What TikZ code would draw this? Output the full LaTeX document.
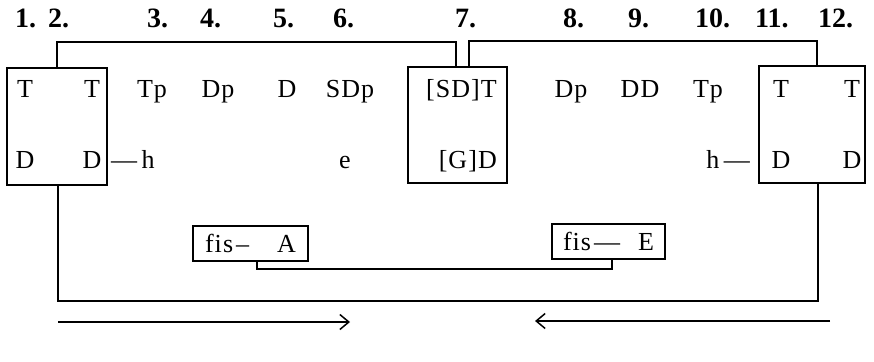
\documentclass[tikz,border=0pt]{standalone}
\usepackage{fontspec}
\setmainfont{Liberation Serif}
\usetikzlibrary{arrows.meta}
\begin{document}
\begin{tikzpicture}[x=1pt,y=-1pt,
  lbl/.style={inner sep=0pt,anchor=base,font=\fontsize{26}{30}\selectfont\addfontfeature{LetterSpace=4}},
  num/.style={inner sep=0pt,anchor=base west,font=\fontsize{28}{30}\selectfont\bfseries},
  frame/.style={draw,line width=1.6pt,inner sep=0pt},
  link/.style={line width=1.6pt},
  dir/.style={line width=1.6pt,-{Straight Barb[length=9pt,width=15pt,line width=1.5pt]}}]
\useasboundingbox (0,0) rectangle (874,361);

% column numbers
\node[num] (n1) at (15,28) {1.};
\node[num] (n2) at (48,28) {2.};
\node[num] (n3) at (147,28) {3.};
\node[num] (n4) at (200,28) {4.};
\node[num] (n5) at (273,28) {5.};
\node[num] (n6) at (333,28) {6.};
\node[num] (n7) at (455,28) {7.};
\node[num] (n8) at (563,28) {8.};
\node[num] (n9) at (628,28) {9.};
\node[num] (n10) at (695,28) {10.};
\node[num] (n11) at (755,28) {11.};
\node[num] (n12) at (818,28) {12.};

% framed groups
\node[frame,minimum width=100pt,minimum height=117pt] (b1) at (57,126.5) {};
\node[frame,minimum width=99pt,minimum height=116pt] (b7) at (457.5,125) {};
\node[frame,minimum width=106pt,minimum height=117pt] (b12) at (812,124.5) {};

% upper row
\node[lbl] (t1) at (25,97) {T};
\node[lbl] (t2) at (92,97) {T};
\node[lbl] (t3) at (152,97) {Tp};
\node[lbl] (t4) at (218,97) {Dp};
\node[lbl] (t5) at (287,97) {D};
\node[lbl] (t6) at (350,97) {SDp};
\node[lbl,anchor=base east] (t7) at (497,97) {[SD]T};
\node[lbl] (t8) at (571,97) {Dp};
\node[lbl] (t9) at (640,97) {DD};
\node[lbl] (t10) at (708,97) {Tp};
\node[lbl] (t11) at (781,97) {T};
\node[lbl] (t12) at (852,97) {T};

% lower row
\node[lbl] (d1) at (25,168) {D};
\node[lbl] (d2) at (92,168) {D};
\node[lbl,anchor=base west] (hl) at (111,168) {---\,h};
\node[lbl] (d6) at (345,168) {e};
\node[lbl,anchor=base east] (d7) at (497,168) {[G]D};
\node[lbl,anchor=base east] (hr) at (750,168) {h\,---};
\node[lbl] (d11) at (781,168) {D};
\node[lbl] (d12) at (852,168) {D};

% fis boxes
\node[frame,lbl,anchor=center,minimum width=115pt,minimum height=35pt] (fa) at (250.5,243.5) {fis\hspace{3pt}--\hspace{28pt}A};
\node[frame,lbl,anchor=center,minimum width=113pt,minimum height=35pt] (fe) at (608.5,241.5) {fis\hspace{3pt}---\hspace{18pt}E};

% connectors
\draw[link] (b1.north) -- ++(0,-25) -| ([xshift=-1.5pt]b7.north);
\draw[link] ([xshift=11.5pt]b7.north) -- ++(0,-25) -| ([xshift=5pt]b12.north);
\draw[link] ([xshift=1pt]b1.south) -- ++(0,115) -| ([xshift=6pt]b12.south);
\draw[link] ([xshift=6.5pt]fa.south) -- ++(0,7) -| ([xshift=3.5pt]fe.south);

% direction arrows
\coordinate (la) at (58,322);
\coordinate (lb) at (350,322);
\coordinate (ra) at (830,321);
\coordinate (rb) at (535,321);
\draw[dir] (la) -- (lb);
\draw[dir] (ra) -- (rb);
\end{tikzpicture}
\end{document}
